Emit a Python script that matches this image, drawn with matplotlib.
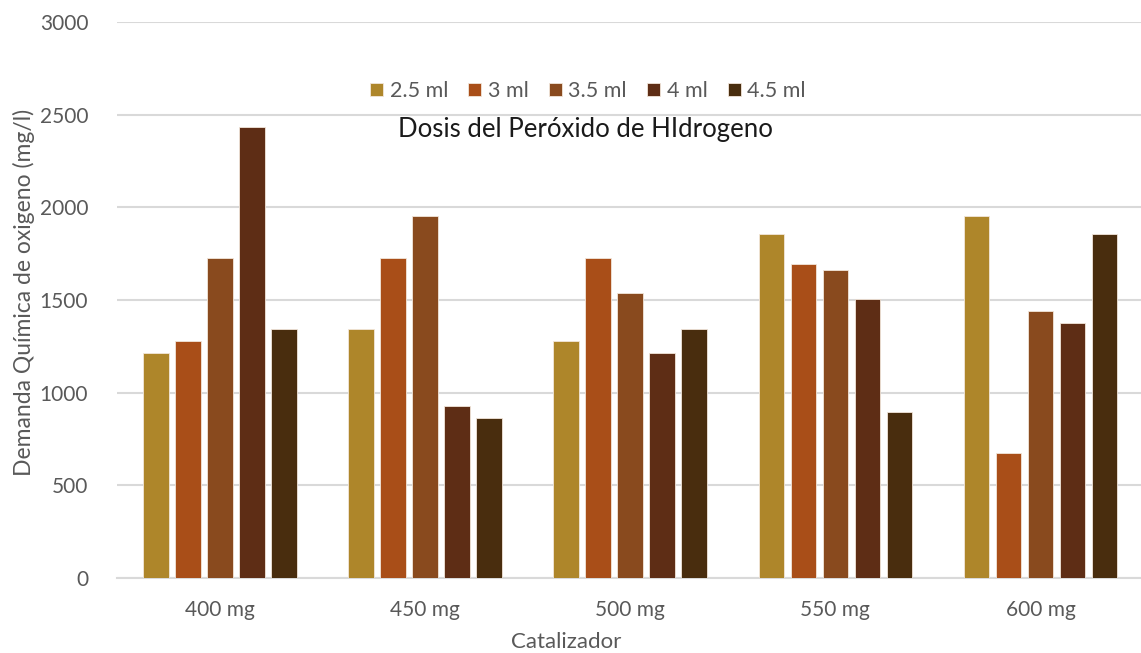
import matplotlib
matplotlib.use("Agg")
import matplotlib.pyplot as plt
import numpy as np

# =========================
# DATA
# =========================

catalysts = ["400 mg", "450 mg", "500 mg", "550 mg", "600 mg"]
doses = ["2.5 ml", "3 ml", "3.5 ml", "4 ml", "4.5 ml"]

dqo_25 = [1216, 1344, 1280, 1856, 1952]
dqo_30 = [1280, 1728, 1728, 1696, 672]
dqo_35 = [1728, 1952, 1536, 1664, 1440]
dqo_40 = [2432, 928, 1216, 1504, 1376]
dqo_45 = [1344, 864, 1344, 896, 1856]

series = [dqo_25, dqo_30, dqo_35, dqo_40, dqo_45]
colors = ["#AE862A", "#A94E18", "#894A1E", "#5E2D15", "#492D0E"]

y_ticks = [0, 500, 1000, 1500, 2000, 2500, 3000]

# =========================
# PLOT
# =========================

W, H = 1141, 653
plt.rcParams["font.family"] = ["Lato", "DejaVu Sans"]

fig = plt.figure(figsize=(W / 100, H / 100), dpi=100)
left, right, top, bottom = 117.4, 1143.0, 22.0, 578.0
ax = fig.add_axes([left / W, 1 - bottom / H, (right - left) / W, (bottom - top) / H])

x = np.arange(len(catalysts))
pitch = 0.156
width = 0.124
for j, (vals, col, lab) in enumerate(zip(series, colors, doses)):
    ax.bar(
        x + (j - 2) * pitch,
        vals,
        width=width,
        color=col,
        edgecolor="#F2E6DA",
        linewidth=0.6,
        label=lab,
        zorder=3,
    )

ax.set_xlim(-0.5, len(catalysts) - 0.5)
ax.set_ylim(0, 3000)
ax.set_yticks(y_ticks)
ax.set_xticks(x)
ax.set_xticklabels(catalysts)
ax.yaxis.grid(True, color="#D9D9D9", linewidth=1.5, zorder=0)
ax.set_axisbelow(True)
for s in ["top", "right", "left"]:
    ax.spines[s].set_visible(False)
ax.spines["bottom"].set_color("#D9D9D9")
ax.spines["bottom"].set_linewidth(1.5)
ax.tick_params(axis="both", length=0, labelsize=15, colors="#595959")
ax.tick_params(axis="x", pad=16)
ax.tick_params(axis="y", pad=21)

fig.text(24 / W, 1 - 292 / H, "Demanda Química de oxigeno (mg/l)", rotation=90,
         ha="center", va="center", fontsize=16.5, color="#595959")
fig.text(566 / W, 1 - 642 / H, "Catalizador", ha="center", va="center",
         fontsize=16, color="#595959")
fig.text(585 / W, 1 - 129 / H, "Dosis del Peróxido de HIdrogeno", ha="center",
         va="center", fontsize=18.5, color="#1A1A1A")

ax.legend(
    loc="center",
    bbox_to_anchor=(588 / W, 1 - 91 / H),
    bbox_transform=fig.transFigure,
    ncol=5,
    frameon=False,
    fontsize=15.5,
    labelcolor="#595959",
    handlelength=0.6,
    handleheight=0.6,
    handletextpad=0.3,
    columnspacing=0.95,
)

fig.savefig("out.png", dpi=100)
